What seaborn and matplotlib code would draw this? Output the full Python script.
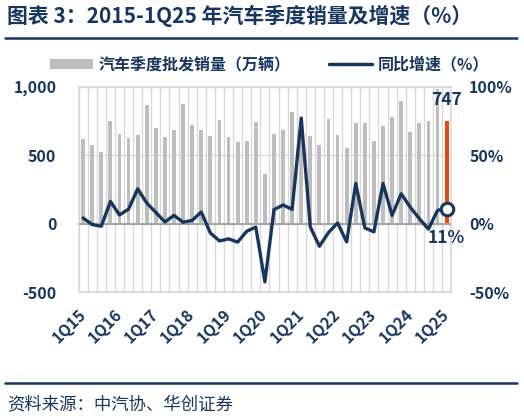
import numpy as np
import pandas as pd
import matplotlib
matplotlib.use("Agg")
import matplotlib.pyplot as plt
from matplotlib.lines import Line2D
from matplotlib.patches import Patch
import seaborn as sns

# dados
trimestres = [f"{q}Q{a}" for a in range(15, 25) for q in range(1, 5)] + ["1Q25"]
vendas = [616, 570, 522, 751, 652, 628, 650, 865, 698, 635, 686, 872,
          717, 686, 638, 758, 635, 594, 601, 739, 365, 654, 683, 814,
          648, 638, 570, 761, 650, 553, 737, 737, 606, 715, 780, 896,
          669, 732, 751, 985, 747]
crescimento = [4.1, -0.7, -1.9, 16.2, 6.3, 10.6, 25.4, 15.0, 8.2, 1.2, 6.0, 1.0,
               2.4, 8.5, -6.8, -12.6, -11.1, -13.5, -5.6, -2.5, -42.5, 10.2, 13.6, 10.4,
               77.0, -2.4, -16.5, -6.5, 0.5, -13.3, 29.3, -3.1, -6.0, 29.3, 6.0, 21.8,
               12.0, 3.6, -4.0, 9.7, 11.0]
rotulos_x = ["1Q15", "1Q16", "1Q17", "1Q18", "1Q19", "1Q20", "1Q21", "1Q22", "1Q23", "1Q24", "1Q25"]

titulo = "图表 3：2015-1Q25 年汽车季度销量及增速（%）"
leg_barra = "汽车季度批发销量（万辆）"
leg_linha = "同比增速（%）"
fonte = "资料来源：中汽协、华创证券"

azul = "#17365D"
cinza = "#BDBDBD"
laranja = "#E04A0E"
grade = "#D9D9D9"

sns.set_theme(style="white")
plt.rcParams["font.family"] = ["Noto Sans CJK SC", "DejaVu Sans"]

dados = pd.DataFrame({"Trimestre": trimestres, "Vendas": vendas, "Crescimento": crescimento})
cores = [cinza] * (len(trimestres) - 1) + [laranja]

fig = plt.figure(figsize=(5.24, 4.18), dpi=100)
ax = fig.add_axes([0.150, 0.301, 0.711, 0.492])

sns.barplot(data=dados, x="Trimestre", y="Vendas", hue="Trimestre", palette=cores,
            legend=False, width=0.42, ax=ax, zorder=3, saturation=1, linewidth=0)
ax.set_ylim(-500, 1000)
ax.set_xlim(-0.5, len(trimestres) - 0.5)
ax.set_yticks([-500, 0, 500, 1000])
ax.set_yticklabels(["-500", "0", "500", "1,000"])
ax.set_xlabel("")
ax.set_ylabel("")

# linhas de grade
ax.set_xticks(np.arange(-0.5, len(trimestres), 1), minor=True)
ax.grid(True, which="minor", axis="x", color=grade, lw=1)
ax.grid(True, which="major", axis="y", color=grade, lw=1)
ax.grid(False, which="major", axis="x")
ax.set_axisbelow(True)
ax.axhline(0, color="#A6A6A6", lw=1.5, zorder=4)
for s in ax.spines.values():
    s.set_color(grade)

pos = [trimestres.index(r) for r in rotulos_x]
ax.set_xticks(pos)
ax.set_xticklabels(rotulos_x, rotation=45, ha="right", va="center", rotation_mode="anchor")
ax.tick_params(axis="x", which="both", length=0, pad=14, labelsize=11.5, labelcolor=azul)
ax.tick_params(axis="y", length=0, pad=16, labelsize=11.5, labelcolor=azul)
for t in ax.get_xticklabels() + ax.get_yticklabels():
    t.set_fontweight("bold")

ax2 = ax.twinx()
sns.lineplot(x=np.arange(len(trimestres)), y=crescimento, color=azul, lw=2.4, ax=ax2, zorder=5)
ax2.plot(len(trimestres) - 1, crescimento[-1], marker="o", ms=9, mfc="white", mec=azul,
         mew=2.2, zorder=6, clip_on=False)
ax2.set_ylim(-50, 100)
ax2.set_yticks([-50, 0, 50, 100])
ax2.set_yticklabels(["-50%", "0%", "50%", "100%"])
ax2.tick_params(axis="y", length=0, pad=13, labelsize=11.5, labelcolor=azul)
for t in ax2.get_yticklabels():
    t.set_fontweight("bold")
for s in ax2.spines.values():
    s.set_visible(False)
ax2.grid(False)

ax.text(len(trimestres) - 1, 905, f"{vendas[-1]}", ha="center", va="center",
        fontsize=12.5, fontweight="bold", color=azul, zorder=7)
ax2.text(len(trimestres) - 1, -10.5, f"{crescimento[-1]:.0f}%", ha="center", va="center",
         fontsize=12.5, fontweight="bold", color=azul, zorder=7)

# legenda
handles = [Patch(facecolor=cinza, edgecolor="none"), Line2D([], [], color=azul, lw=2.5)]
fig.legend(handles, [leg_barra, leg_linha], loc="center", bbox_to_anchor=(0.514, 0.845),
           ncol=2, frameon=False, handlelength=2.7, handleheight=0.6, columnspacing=2.4,
           handletextpad=0.35, prop={"size": 11.5, "weight": "bold"}, labelcolor=azul)

# título e fonte
fig.text(0.013, 0.963, titulo, ha="left", va="center", fontsize=15, fontweight="bold", color=azul)
fig.add_artist(Line2D([0.01, 0.987], [0.908, 0.908], color=azul, lw=1.8))
fig.add_artist(Line2D([0.01, 0.987], [0.083, 0.083], color=azul, lw=1.8))
fig.text(0.013, 0.033, fonte, ha="left", va="center", fontsize=12.5, color=azul)

fig.savefig("out.png", dpi=100)
